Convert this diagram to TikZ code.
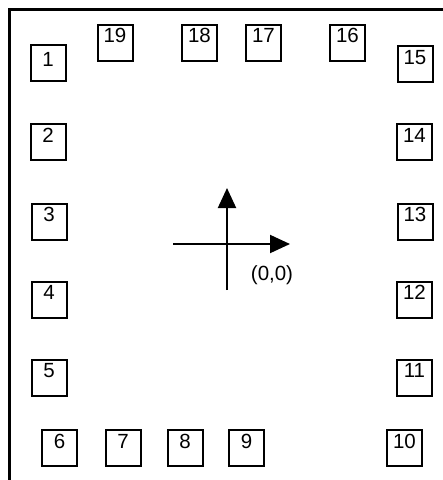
\documentclass[tikz,border=0pt]{standalone}
\usepackage{fontspec}
\setmainfont{Liberation Sans}
\usetikzlibrary{arrows.meta,calc}
\tikzset{
  pad/.style={draw=black,line width=2pt,minimum width=35pt,minimum height=36pt,inner sep=0pt},
  num/.style={anchor=base,inner sep=0pt,font=\fontsize{20.5}{22}\selectfont},
  axis/.style={line width=2pt,-{Triangle[length=20pt,width=18pt]}},
  frame/.style={line width=3pt}
}
\begin{document}
\begin{tikzpicture}[x=1pt,y=-1pt]
\useasboundingbox (0,0) rectangle (443,480);
% frame (left and top edges)
\coordinate (fb) at (9,482);
\coordinate (fc) at (9,9);
\coordinate (fr) at (445,9);
\draw[frame] (fb) -- (fc) -- (fr);
% pads: name, center, baseline offset from top
\foreach \n/\x/\y/\o in {
  1/48/63/22, 2/48/141.5/20, 3/49/221.5/19, 4/49/299.5/19, 5/49/377.5/19,
  6/59.5/447.5/20, 7/123/447.5/20, 8/185/447.5/20, 9/246.5/447.5/20, 10/404.5/447.5/20,
  11/414.5/377.5/19, 12/414.5/299.5/18.5, 13/415/221.5/19, 14/414.5/141.5/20, 15/415/63.5/20,
  16/347.5/43/18, 17/263.5/43/18, 18/199.5/43/18, 19/115/43/18}{
  \node[pad] (p\n) at (\x,\y) {};
  \node[num] (t\n) at ($(p\n.north)+(0,\o)$) {\n};
}
% axes
\coordinate (o) at (227,244);
\coordinate (xs) at (173,244);
\coordinate (xe) at (290,244);
\coordinate (ys) at (227,290);
\coordinate (ye) at (227,188);
\draw[axis] (xs) -- (xe);
\draw[axis] (ys) -- (ye);
\node[num] (orig) at (272,280) {(0,0)};
\end{tikzpicture}
\end{document}
